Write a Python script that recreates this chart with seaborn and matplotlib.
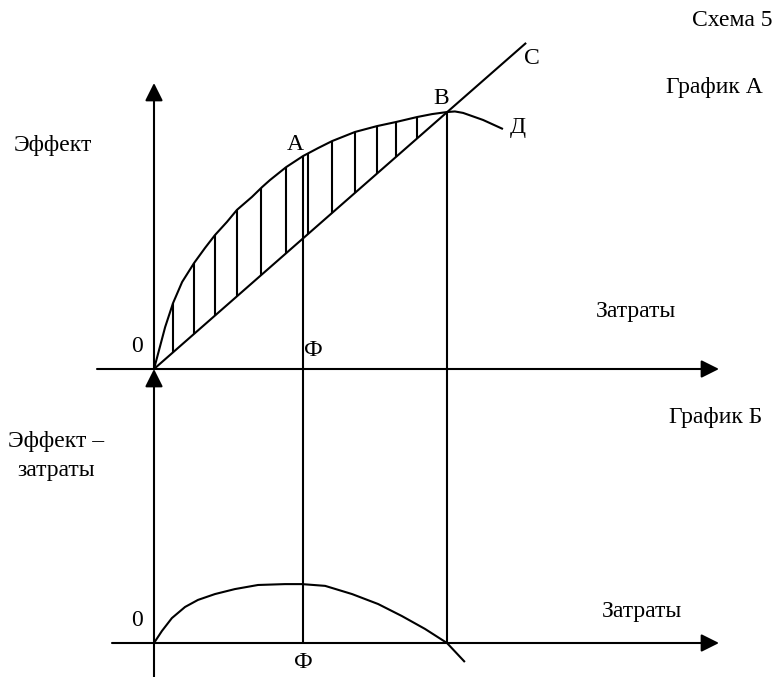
import numpy as np
import pandas as pd
import matplotlib
matplotlib.use("Agg")
import matplotlib.pyplot as plt
import seaborn as sns

# ---------------- data (schematic units) ----------------
# Graph A: effect curve 0-A-B-Д (cost, effect)
effect_cost = [0.0, 0.20, 0.38, 0.65, 0.96, 1.37, 1.74, 2.08, 2.49, 2.83, 3.34, 3.69,
               3.96, 4.51, 5.09, 5.60, 6.08, 6.86, 7.61, 8.26, 8.98, 9.49, 10.0,
               10.27, 10.55, 11.23, 11.91]
effect_val = [0.0, 0.75, 1.43, 2.25, 2.97, 3.62, 4.13, 4.57, 5.02, 5.43, 5.87, 6.21,
              6.45, 6.89, 7.27, 7.54, 7.78, 8.09, 8.29, 8.43, 8.60, 8.70, 8.77,
              8.79, 8.74, 8.50, 8.19]
# Straight line 0-B-C
line_cost = [0.0, 12.70]
line_val = [0.0, 11.13]
# hatch positions (cost)
hatch_cost = [0.65, 1.37, 2.08, 2.83, 3.66, 4.51, 5.26, 6.08, 6.86, 7.61, 8.26, 8.98]
# Key points
phi_cost = 5.09
b_cost = 10.0
# Graph B: effect minus costs
diff_cost = [0.0, 0.27, 0.61, 1.06, 1.50, 2.08, 2.76, 3.55, 4.47, 5.05, 5.84, 6.76,
             7.65, 8.46, 9.25, 10.0, 10.61]
diff_val = [0.0, 0.41, 0.85, 1.23, 1.47, 1.67, 1.84, 1.98, 2.01, 2.01, 1.95, 1.67,
            1.33, 0.92, 0.48, 0.0, -0.65]

# ---------------- layout ----------------
W, H = 775, 677
PX = 29.3          # pixels per unit
OX, OY = 154, 369  # pixel position of graph A origin
LOWER_Y0 = -(643 - OY) / PX  # graph B baseline in common units

sns.set_theme(style="white")
plt.rcParams['font.family'] = ['Liberation Serif', 'DejaVu Serif']
plt.rcParams['text.color'] = 'black'
FS = 17

fig = plt.figure(figsize=(W / 100, H / 100), dpi=100)
ax = fig.add_axes([0, 0, 1, 1])
ax.set_xlim((0 - OX) / PX, (W - OX) / PX)
ax.set_ylim((OY - H) / PX, OY / PX)
ax.axis("off")

LW = 1.5
k = "black"

dfA = pd.DataFrame({"cost": effect_cost, "val": effect_val})
dfL = pd.DataFrame({"cost": line_cost, "val": line_val})
dfB = pd.DataFrame({"cost": diff_cost, "val": np.array(diff_val) + LOWER_Y0})

for d in (dfA, dfL, dfB):
    sns.lineplot(data=d, x="cost", y="val", ax=ax, color=k, lw=LW, sort=False,
                 estimator=None, solid_joinstyle="round", solid_capstyle="butt")

# hatching between curve and line
slope = line_val[1] / line_cost[1]
h = np.array(hatch_cost)
ax.vlines(h, slope * h, np.interp(h, effect_cost, effect_val), color=k, lw=LW)

# vertical lines through Ф and B
ax.vlines([phi_cost], LOWER_Y0, np.interp(phi_cost, effect_cost, effect_val), color=k, lw=LW)
ax.vlines([b_cost], LOWER_Y0, np.interp(b_cost, effect_cost, effect_val), color=k, lw=LW)

# axes with arrows
ap = dict(arrowstyle="-|>", mutation_scale=27, lw=LW, color=k, shrinkA=0, shrinkB=0)
x_left_A = (97 - OX) / PX
x_left_B = (112 - OX) / PX
x_tip = (719 - OX) / PX
y_tip = (OY - 83) / PX
y_bottom = (OY - H) / PX
ax.annotate("", xy=(0, y_tip), xytext=(0, 0), arrowprops=ap)
ax.annotate("", xy=(0, 0), xytext=(0, y_bottom - 0.5), arrowprops=ap)
ax.annotate("", xy=(x_tip, 0), xytext=(x_left_A, 0), arrowprops=ap)
ax.annotate("", xy=(x_tip, LOWER_Y0), xytext=(x_left_B, LOWER_Y0), arrowprops=ap)

# point labels
def dtxt(px, py, s, **kw):
    ax.text((px - OX) / PX, (OY - py) / PX, s, fontsize=FS, ha="center", va="center",
            color=k, **kw)

dtxt(295, 145, "А")
dtxt(441, 98, "В")
dtxt(532, 59, "С")
dtxt(518, 128, "Д")
dtxt(137, 346, "0")
dtxt(313, 350, "Ф")
dtxt(137, 621, "0")
dtxt(303, 662, "Ф")

def ftxt(px, py, s, ha="center", **kw):
    fig.text(px / W, 1 - py / H, s, fontsize=FS, ha=ha, va="center", color=k, **kw)

ftxt(773, 21, "Схема 5", ha="right")
ftxt(714, 87, "График А")
ftxt(53, 146, "Эффект")
ftxt(636, 312, "Затраты")
ftxt(716, 418, "График Б")
ftxt(56, 456, "Эффект –\nзатраты", linespacing=1.45)
ftxt(642, 612, "Затраты")

fig.savefig("out.png", dpi=100)
